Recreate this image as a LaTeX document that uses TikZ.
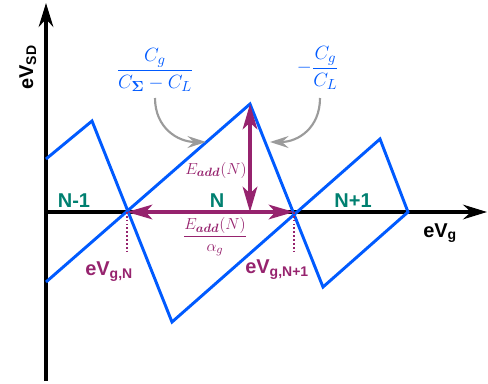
\documentclass[tikz,border=0pt]{standalone}
\usepackage{amsmath}
\usepackage{amssymb}
\usepackage{fontspec}
\setmainfont{Liberation Sans}
\usetikzlibrary{arrows.meta}

\definecolor{dotblue}{RGB}{0,90,255}
\definecolor{chargeteal}{RGB}{0,128,112}
\definecolor{addpurple}{RGB}{150,35,110}
\definecolor{notegray}{RGB}{155,155,155}

\begin{document}
\begin{tikzpicture}[x=0.75pt, y=-0.75pt,
    every node/.style={inner sep=0pt},
    axis/.style={line width=2.4pt, -{Stealth[length=18pt, width=11pt, inset=6pt]}},
    coulomb/.style={line width=2.2pt, dotblue},
    addarrow/.style={line width=2.4pt, addpurple, {Stealth[length=19pt, width=11pt, inset=5pt]}-{Stealth[length=19pt, width=11pt, inset=5pt]}},
    pointer/.style={line width=1.6pt, notegray, -{Stealth[length=14pt, width=9pt, inset=5pt]}},
    guide/.style={line width=1.3pt, addpurple, dash pattern=on 1.3pt off 1.6pt},
    charge/.style={font=\fontsize{15}{18}\selectfont\bfseries, text=chargeteal, anchor=base},
    vlabel/.style={font=\fontsize{15}{18}\selectfont\bfseries, anchor=base west},
    mathlabel/.style={font=\fontsize{13}{16}\selectfont, text=addpurple},
    slope/.style={font=\fontsize{15}{18}\selectfont, text=dotblue}]
            \useasboundingbox (0,0) rectangle (488,383);

            \coordinate (O) at (46,212);
            \coordinate (ytop) at (46,3);
            \coordinate (ybot) at (46,381);
            \coordinate (xend) at (487,212);

            \coordinate (s1) at (46,159);
            \coordinate (p1) at (92,121);
            \coordinate (b1) at (172,322);
            \coordinate (p3) at (380,139);
            \coordinate (r3) at (408,212);
            \coordinate (b3) at (323,287);
            \coordinate (p2) at (250,104);
            \coordinate (s2) at (46,282);

            \coordinate (cross1) at (127,212);
            \coordinate (cross2) at (294,212);
            \coordinate (foot) at (250,212);
            \coordinate (tick1) at (127,254);
            \coordinate (tick2) at (294,254);

            \coordinate (noteL) at (155,98);
            \coordinate (hitL) at (206,142);
            \coordinate (noteR) at (320,98);
            \coordinate (hitR) at (270,142);

            \node[vlabel, rotate=90] (ylab) at (33,90) {eV\textsubscript{SD}};
            \node[vlabel] (xlab) at (423,237) {eV\textsubscript{g}};

            \node[charge] (Nm) at (74,207) {N-1};
            \node[charge] (N) at (217,207) {N};
            \node[charge] (Np) at (353,207) {N+1};

            \node[vlabel, text=addpurple] (vg1) at (85,275) {eV\textsubscript{g,N}};
            \node[vlabel, text=addpurple] (vg2) at (245,273) {eV\textsubscript{g,N+1}};

            \node[slope] (fracL) at (155,70) {$\dfrac{C_g}{C_{\boldsymbol{\Sigma}}-C_L}$};
            \node[slope] (fracR) at (318,68) {$-\dfrac{C_g}{C_L}$};

            \node[mathlabel, anchor=east] (Eadd) at (247,170) {$E_{\boldsymbol{add}}(N)$};
            \node[mathlabel, anchor=north] (Egate) at (215,217) {$\dfrac{E_{\boldsymbol{add}}(N)}{\alpha_g}$};

            \draw[axis] (ybot) -- (ytop);
            \draw[axis] (O) -- (xend);

            \draw[coulomb] (s1) -- (p1) -- (b1) -- (p3) -- (r3) -- (b3) -- (p2) -- (s2);

            \draw[addarrow] (cross1) -- (cross2);
            \draw[addarrow] (p2) -- (foot);

            \draw[guide] (cross1) -- (tick1);
            \draw[guide] (cross2) -- (tick2);

            \draw[pointer] (noteL) .. controls (155,128) and (178,142) .. (hitL);
            \draw[pointer] (noteR) .. controls (320,128) and (298,142) .. (hitR);
          \end{tikzpicture}
\end{document}
